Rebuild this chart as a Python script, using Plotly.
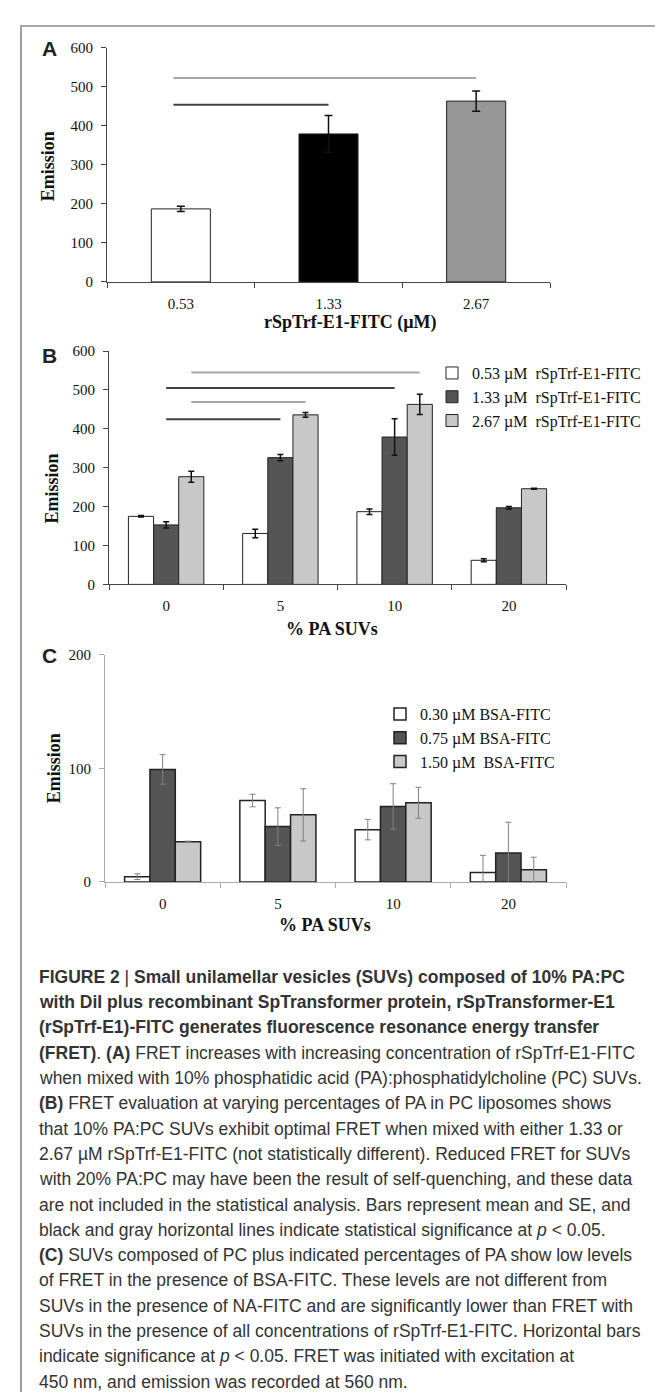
import plotly.graph_objects as go

W, H = 663, 1392


def px_x(x):
    return x / W


def px_y(y):
    return 1 - y / H


# ---------------- data ----------------
# Panel A : emission vs rSpTrf-E1-FITC concentration (10% PA:PC SUVs)
A_categories = ["0.53", "1.33", "2.67"]
A_emission = [187, 379, 463]
A_se = [7, 47, 26]
# significance lines (x in category units, y in emission units)
A_sig_start = [-0.05, -0.05]
A_sig_end = [2.0, 1.0]
A_sig_y = [522, 454]
A_sig_series = [2, 1]

# Panel B : emission vs % PA SUVs, three rSpTrf-E1-FITC concentrations
B_categories = ["0", "5", "10", "20"]
B_series = ["0.53 µM\u00a0\u00a0rSpTrf-E1-FITC",
            "1.33 µM\u00a0\u00a0rSpTrf-E1-FITC",
            "2.67 µM\u00a0\u00a0rSpTrf-E1-FITC"]
B_053 = [175, 131, 187, 62]
B_053_se = [2, 11, 7, 4]
B_133 = [153, 326, 379, 197]
B_133_se = [8, 8, 47, 3]
B_267 = [277, 436, 463, 246]
B_267_se = [14, 6, 26, 1]
# significance lines: from bar (series, category) to bar (series, category)
B_sig_series = [2, 1, 2, 1]
B_sig_from_cat = [0, 0, 0, 0]
B_sig_to_cat = [2, 2, 1, 1]
B_sig_y = [545, 505, 469, 425]

# Panel C : emission vs % PA SUVs, three BSA-FITC concentrations
C_categories = ["0", "5", "10", "20"]
C_series = ["0.30 µM BSA-FITC", "0.75 µM BSA-FITC", "1.50 µM\u00a0\u00a0BSA-FITC"]
C_030 = [4.6, 71.6, 46, 8.4]
C_030_se = [2.5, 5.5, 9, 15]
C_075 = [99, 48.7, 66.4, 25.5]
C_075_se = [13, 16.5, 20, 27]
C_150 = [35.4, 59, 69.6, 10.7]
C_150_se = [0.5, 23, 13.6, 11]

# ---------------- style ----------------
SERIF = "Liberation Serif, Times New Roman, serif"
SANS = "Liberation Sans, Arial, sans-serif"
CAPTION_FONT = "Liberation Sans, Arial, sans-serif"
A_colors = ["#ffffff", "#000000", "#969696"]
BC_colors = ["#ffffff", "#555555", "#c8c8c8"]
SIG_colors = {1: "#404040", 2: "#a8a8a8"}
BARGAP = 0.34
N_SER = 3
BAR_W = (1 - BARGAP) / N_SER

fig = go.Figure()

# Panel A bars
fig.add_trace(go.Bar(
    x=list(range(len(A_categories))), y=A_emission, width=0.4,
    marker=dict(color=A_colors, line=dict(color="#222222", width=1)),
    error_y=dict(type="data", array=A_se, color="#111111", thickness=1.5, width=4),
    showlegend=False, xaxis="x", yaxis="y"))
for s, e, yv, ser in zip(A_sig_start, A_sig_end, A_sig_y, A_sig_series):
    fig.add_trace(go.Scatter(x=[s, e], y=[yv, yv], mode="lines",
                             line=dict(color=SIG_colors[ser], width=2),
                             showlegend=False, hoverinfo="skip",
                             xaxis="x", yaxis="y"))

# Panel B bars
for i, (name, vals, se) in enumerate(zip(B_series, [B_053, B_133, B_267],
                                         [B_053_se, B_133_se, B_267_se])):
    fig.add_trace(go.Bar(
        x=list(range(len(B_categories))), y=vals, name=name,
        marker=dict(color=BC_colors[i], line=dict(color="#222222", width=1)),
        error_y=dict(type="data", array=se, color="#111111", thickness=1.5, width=3),
        legend="legend", legendgroup="b%d" % i, xaxis="x2", yaxis="y2"))
for ser, c0, c1, yv in zip(B_sig_series, B_sig_from_cat, B_sig_to_cat, B_sig_y):
    off = (ser - (N_SER - 1) / 2) * BAR_W
    fig.add_trace(go.Scatter(x=[c0 + off, c1 + off], y=[yv, yv], mode="lines",
                             line=dict(color=SIG_colors[ser], width=2),
                             showlegend=False, hoverinfo="skip",
                             xaxis="x2", yaxis="y2"))

# Panel C bars
for i, (name, vals, se) in enumerate(zip(C_series, [C_030, C_075, C_150],
                                         [C_030_se, C_075_se, C_150_se])):
    fig.add_trace(go.Bar(
        x=list(range(len(C_categories))), y=vals, name=name,
        marker=dict(color=BC_colors[i], line=dict(color="#222222", width=1.5)),
        error_y=dict(type="data", array=se, color="#808080", thickness=1, width=3),
        legend="legend2", legendgroup="c%d" % i, xaxis="x3", yaxis="y3"))


def xax(domain, cats, linecolor, anchor):
    n = len(cats)
    return dict(domain=[px_x(domain[0]), px_x(domain[1])], range=[-0.5, n - 0.5],
                anchor=anchor,
                tickmode="array", tickvals=list(range(n)), ticktext=cats,
                ticks="", showline=True, linecolor=linecolor, linewidth=1,
                showgrid=False, zeroline=False, fixedrange=True,
                tickfont=dict(family=SERIF, size=15, color="#111"),
                ticklabelstandoff=8,
                minor=dict(tickmode="array", tickvals=[k - 0.5 for k in range(n + 1)],
                           ticks="outside", ticklen=5, tickcolor=linecolor, tickwidth=1))


def yax(domain, rng, linecolor, anchor):
    return dict(domain=[px_y(domain[0]), px_y(domain[1])], range=rng,
                tickmode="linear", tick0=0, dtick=100, ticks="outside", ticklen=5,
                tickcolor=linecolor, showline=True, linecolor=linecolor, linewidth=1,
                showgrid=False, zeroline=False, anchor=anchor,
                tickfont=dict(family=SERIF, size=15, color="#111"),
                ticklabelstandoff=5)


fig.update_layout(
    width=W, height=H, margin=dict(l=0, r=0, t=0, b=0),
    paper_bgcolor="white", plot_bgcolor="white",
    barmode="group", bargap=BARGAP, bargroupgap=0,
    xaxis=xax((99, 542), A_categories, "#444", "y"),
    yaxis=yax((269, 32), [0, 600], "#444", "x"),
    xaxis2=xax((101, 558), B_categories, "#444", "y2"),
    yaxis2=yax((575, 339), [0, 600], "#444", "x2"),
    xaxis3=xax((97, 558), C_categories, "#aaaaaa", "y3"),
    yaxis3=yax((876, 646), [0, 200], "#aaaaaa", "x3"),
    legend=dict(x=px_x(424), y=px_y(344), xanchor="left", yanchor="top",
                font=dict(family=SERIF, size=16, color="#111"),
                bgcolor="rgba(0,0,0,0)", tracegroupgap=4, traceorder="normal"),
    legend2=dict(x=px_x(372), y=px_y(689), xanchor="left", yanchor="top",
                 font=dict(family=SERIF, size=16, color="#111"),
                 bgcolor="rgba(0,0,0,0)", tracegroupgap=0, traceorder="normal"),
)

ann = []
# panel letters
for letter, (x, y) in zip(["A", "B", "C"], [(41, 33), (41, 343), (41, 647)]):
    ann.append(dict(text="<b>%s</b>" % letter, x=px_x(x), y=px_y(y), xref="paper", yref="paper",
                    showarrow=False, xanchor="center", yanchor="middle",
                    font=dict(family=SANS, size=21, color="#222")))
# axis titles
for t, (x, y) in zip(["rSpTrf-E1-FITC (µM)", "% PA SUVs", "% PA SUVs"],
                     [(342, 310), (324, 620), (317, 920)]):
    ann.append(dict(text="<b>%s</b>" % t, x=px_x(x), y=px_y(y), xref="paper", yref="paper",
                    showarrow=False, xanchor="center", yanchor="middle",
                    font=dict(family=SERIF, size=18, color="#111")))
for (x, y) in [(40, 152), (44, 478), (46, 761)]:
    ann.append(dict(text="<b>Emission</b>", x=px_x(x), y=px_y(y), xref="paper", yref="paper",
                    showarrow=False, xanchor="center", yanchor="middle", textangle=-90,
                    font=dict(family=SERIF, size=18, color="#111")))

caption = [
    "<b>FIGURE 2</b> | <b>Small unilamellar vesicles (SUVs) composed of 10% PA:PC</b>",
    "<b>with DiI plus recombinant SpTransformer protein, rSpTransformer-E1</b>",
    "<b>(rSpTrf-E1)-FITC generates fluorescence resonance energy transfer</b>",
    "<b>(FRET)</b>. <b>(A)</b> FRET increases with increasing concentration of rSpTrf-E1-FITC",
    "when mixed with 10% phosphatidic acid (PA):phosphatidylcholine (PC) SUVs.",
    "<b>(B)</b> FRET evaluation at varying percentages of PA in PC liposomes shows",
    "that 10% PA:PC SUVs exhibit optimal FRET when mixed with either 1.33 or",
    "2.67 µM rSpTrf-E1-FITC (not statistically different). Reduced FRET for SUVs",
    "with 20% PA:PC may have been the result of self-quenching, and these data",
    "are not included in the statistical analysis. Bars represent mean and SE, and",
    "black and gray horizontal lines indicate statistical significance at <i>p</i> &lt; 0.05.",
    "<b>(C)</b> SUVs composed of PC plus indicated percentages of PA show low levels",
    "of FRET in the presence of BSA-FITC. These levels are not different from",
    "SUVs in the presence of NA-FITC and are significantly lower than FRET with",
    "SUVs in the presence of all concentrations of rSpTrf-E1-FITC. Horizontal bars",
    "indicate significance at <i>p</i> &lt; 0.05. FRET was initiated with excitation at",
    "450 nm, and emission was recorded at 560 nm.",
]
for i, line in enumerate(caption):
    ann.append(dict(text=line, x=px_x(29), y=px_y(972 + i * 25.6), xref="paper", yref="paper",
                    showarrow=False, xanchor="left", yanchor="middle",
                    font=dict(family=CAPTION_FONT, size=17.5, color="#333")))
fig.update_layout(annotations=ann)

# figure frame
fig.add_shape(type="line", xref="paper", yref="paper", x0=px_x(12), x1=px_x(662),
              y0=px_y(10), y1=px_y(10), line=dict(color="#aaaaaa", width=2))
fig.add_shape(type="line", xref="paper", yref="paper", x0=px_x(13), x1=px_x(13),
              y0=px_y(10), y1=0, line=dict(color="#a0a0a0", width=2))
fig.add_shape(type="line", xref="paper", yref="paper", x0=px_x(661.5), x1=px_x(661.5),
              y0=px_y(10), y1=0, line=dict(color="#e2e2e2", width=1.5))

fig.write_html("out.html")
